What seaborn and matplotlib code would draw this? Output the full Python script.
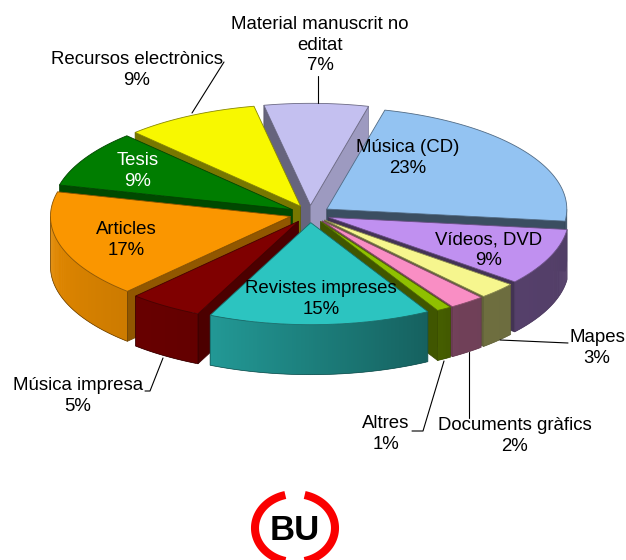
import numpy as np
import seaborn as sns
import matplotlib.pyplot as plt
from matplotlib.patches import Polygon
from matplotlib.colors import to_rgb

# data
names = ['Música (CD)', 'Vídeos, DVD', 'Mapes', 'Documents gràfics', 'Altres',
         'Revistes impreses', 'Música impresa', 'Articles', 'Tesis',
         'Recursos electrònics', 'Material manuscrit no\neditat']
values = [23, 9, 2.6, 2.4, 1, 15, 5, 17, 9, 9, 7]
colors = ['#93C3F2', '#C090F0', '#F6F68E', '#F98EC4', '#8FC000', '#2CC4C0',
          '#7F0000', '#FA9600', '#007D00', '#F8F800', '#C4C0F0']

# label centres and leader lines, in pixels
label_pos = [(408, 158), (489, 250), (597, 348), (515, 436), (386, 434), (321, 299),
             (78, 396), (126, 240), (138, 171), (137, 70), (320, 45)]
label_col = ['black'] * 8 + ['white', 'black', 'black']
leaders = [[(318, 76), (318, 103)],
           [(224, 62), (192, 113)],
           [(568, 343), (500, 340)],
           [(469, 352), (469, 418)],
           [(444, 361), (423, 431), (412, 431)],
           [(163, 358), (150, 391), (145, 391)]]

# pie geometry
cx, cy = 310, 214
rx, ry = 240, 102
depth = 50
explode = 0.085
start = 14

# shading against the angle clockwise from north
wall_ang = [97, 145, 152, 205, 284]
wall_shade = [0.43, 0.45, 0.5, 0.78, 0.95]
face_ang = [14, 97, 129, 151, 205, 223, 284, 316, 349]
face_shade = [0.8, 0.4, 0.35, 0.45, 0.6, 0.58, 0.58, 0.48, 0.52]


def pt(ox, oy, ang, r=1.0):
    a = np.radians(ang)
    return ox + r * rx * np.sin(a), oy - r * ry * np.cos(a)


def shade(col, f):
    return tuple(np.clip(np.array(to_rgb(col)) * f, 0, 1))


sns.set_theme(style='white')
plt.rcParams['font.family'] = ['Liberation Sans', 'DejaVu Sans']

fig = plt.figure(figsize=(6.26, 5.6), dpi=100)
ax = fig.add_axes([0, 0, 1, 1])
ax.set_xlim(0, 626)
ax.set_ylim(560, 0)
ax.axis('off')

palette = sns.color_palette(colors)
edges = start + np.cumsum([0] + values) * 3.6
slices = []
for i in range(len(values)):
    a0, a1 = edges[i], edges[i + 1]
    slices.append((-np.cos(np.radians((a0 + a1) / 2)), i, a0, a1))

# back to front
for _, i, a0, a1 in sorted(slices):
    col = palette[i]
    mid = (a0 + a1) / 2
    ox, oy = pt(cx, cy, mid, explode)

    # cut faces
    for ang, facing in ((a0, np.sin(np.radians(a0)) < 0), (a1, np.sin(np.radians(a1)) > 0)):
        if not facing:
            continue
        p = pt(ox, oy, ang)
        f = np.interp(ang % 360, face_ang, face_shade)
        ax.add_patch(Polygon([(ox, oy), p, (p[0], p[1] + depth), (ox, oy + depth)],
                             fc=shade(col, f), ec=shade(col, f * 0.8), lw=0.5))

    # outer wall, only the part that faces the viewer
    w0, w1 = max(a0, 90), min(a1, 270)
    if w1 > w0:
        angs = np.arange(w0, w1, 0.5)
        for b in angs:
            b1 = min(b + 1.0, w1)
            p0, p1 = pt(ox, oy, b), pt(ox, oy, b1)
            f = np.interp(b + 0.25, wall_ang, wall_shade)
            ax.add_patch(Polygon([p0, p1, (p1[0], p1[1] + depth), (p0[0], p0[1] + depth)],
                                 fc=shade(col, f), ec='none'))
        outline = [pt(ox, oy, w0)] + [pt(ox, oy + depth, b) for b in np.linspace(w0, w1, 60)] + [pt(ox, oy, w1)]
        ax.add_patch(Polygon(outline, closed=False, fill=False, ec=shade(col, 0.4), lw=0.5))

    # top
    arc = [pt(ox, oy, b) for b in np.linspace(a0, a1, 80)]
    ax.add_patch(Polygon([(ox, oy)] + arc, fc=col, ec=shade(col, 0.55), lw=0.6))

for line in leaders:
    xs, ys = zip(*line)
    ax.plot(xs, ys, color='black', lw=0.8)

for name, val, pos, c in zip(names, values, label_pos, label_col):
    ax.text(pos[0], pos[1], f'{name}\n{val:.0f}%', ha='center', va='center', color=c,
            fontsize=13.4, linespacing=1.27)

# logo
t = np.radians(np.linspace(104, 256, 60))
for sign in (-1, 1):
    ax.plot(295 + sign * 40 * -np.cos(t), 528 - 34 * np.sin(t), color='#FA0000', lw=5.8,
            solid_capstyle='butt')
ax.text(295, 531, 'BU', ha='center', va='center', fontsize=25, fontweight='bold', color='black')

fig.savefig('out.png', dpi=100)
